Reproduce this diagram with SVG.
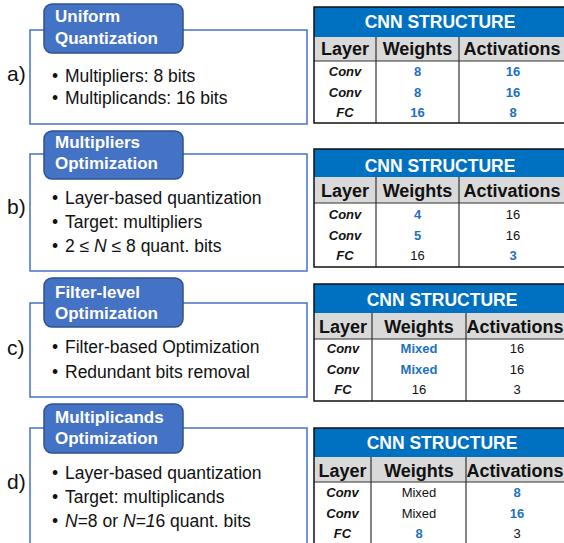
<svg xmlns="http://www.w3.org/2000/svg" width="564" height="543" viewBox="0 0 564 543">
<style>
text{font-family:"Liberation Sans",Arial,sans-serif}
.box{fill:#ffffff;stroke:#4472C4;stroke-width:1.5}
.tbox{fill:#4472C4;stroke:#2F528F;stroke-width:1.5}
.ttl{fill:#ffffff;font-size:17px;font-weight:bold}
.bul{fill:#111;font-size:17.5px}
.lbl{fill:#111;font-size:21px}
.band{fill:#0070C0}
.hdr{fill:#D9D9D9}
.frame{fill:none;stroke:#111;stroke-width:1.5}
.grid{stroke:#333;stroke-width:1.2}
.cnn{fill:#fff;font-size:17.5px;font-weight:bold;text-anchor:middle}
.col{fill:#111;font-size:18px;font-weight:bold;text-anchor:middle}
.ly{fill:#111;font-size:13px;font-weight:bold;font-style:italic;text-anchor:middle}
.vb{fill:#1F70C1;font-size:13px;font-weight:bold;text-anchor:middle}
.vn{fill:#111;font-size:13px;text-anchor:middle}
</style>

<!-- Panel a -->
<g id="panel-a">
<rect class="box" x="30" y="30" width="277" height="94"/>
<rect class="tbox" x="44" y="4" width="139" height="49" rx="8"/>
<text class="ttl" x="55" y="22">Uniform</text>
<text class="ttl" x="55" y="44">Quantization</text>
<text class="lbl" x="7" y="81">a)</text>
<text class="bul" x="52" y="82">•</text><text class="bul" x="65" y="82">Multipliers: 8 bits</text>
<text class="bul" x="52" y="104">•</text><text class="bul" x="65" y="104">Multiplicands: 16 bits</text>
</g>
<g id="table-a">
<rect class="band" x="314" y="7" width="252" height="30"/>
<rect class="hdr" x="314" y="37" width="252" height="24"/>
<line class="grid" x1="314" y1="61" x2="566" y2="61"/>
<line class="grid" x1="376" y1="37" x2="376" y2="123"/>
<line class="grid" x1="459" y1="37" x2="459" y2="123"/>
<rect class="frame" x="314" y="7" width="252" height="116"/>
<text class="cnn" x="440" y="28">CNN STRUCTURE</text>
<text class="col" x="345" y="55">Layer</text><text class="col" x="417.5" y="55">Weights</text><text class="col" x="512" y="55">Activations</text>
<text class="ly" x="345" y="76">Conv</text><text class="vb" x="417.5" y="76">8</text><text class="vb" x="513" y="76">16</text>
<text class="ly" x="345" y="97">Conv</text><text class="vb" x="417.5" y="97">8</text><text class="vb" x="513" y="97">16</text>
<text class="ly" x="345" y="117">FC</text><text class="vb" x="417.5" y="117">16</text><text class="vb" x="513" y="117">8</text>
</g>

<!-- Panel b -->
<g id="panel-b">
<rect class="box" x="30" y="154" width="277" height="117"/>
<rect class="tbox" x="44" y="131" width="139" height="48" rx="8"/>
<text class="ttl" x="55" y="148">Multipliers</text>
<text class="ttl" x="55" y="169">Optimization</text>
<text class="lbl" x="7" y="214">b)</text>
<text class="bul" x="52" y="204">•</text><text class="bul" x="65" y="204">Layer-based quantization</text>
<text class="bul" x="52" y="228">•</text><text class="bul" x="65" y="228">Target: multipliers</text>
<text class="bul" x="52" y="252">•</text><text class="bul" x="65" y="252">2 ≤ <tspan font-style="italic">N</tspan> ≤ 8 quant. bits</text>
</g>
<g id="table-b">
<rect class="band" x="314" y="149" width="252" height="28"/>
<rect class="hdr" x="314" y="177" width="252" height="26"/>
<line class="grid" x1="314" y1="203" x2="566" y2="203"/>
<line class="grid" x1="376" y1="177" x2="376" y2="267"/>
<line class="grid" x1="459" y1="177" x2="459" y2="267"/>
<rect class="frame" x="314" y="149" width="252" height="118"/>
<text class="cnn" x="440" y="172">CNN STRUCTURE</text>
<text class="col" x="345" y="197">Layer</text><text class="col" x="417.5" y="197">Weights</text><text class="col" x="512" y="197">Activations</text>
<text class="ly" x="345" y="219">Conv</text><text class="vb" x="417.5" y="219">4</text><text class="vn" x="513" y="219">16</text>
<text class="ly" x="345" y="240">Conv</text><text class="vb" x="417.5" y="240">5</text><text class="vn" x="513" y="240">16</text>
<text class="ly" x="345" y="260">FC</text><text class="vn" x="417.5" y="260">16</text><text class="vb" x="513" y="260">3</text>
</g>

<!-- Panel c -->
<g id="panel-c">
<rect class="box" x="30" y="303" width="277" height="94"/>
<rect class="tbox" x="44" y="278" width="139" height="49" rx="8"/>
<text class="ttl" x="55" y="298">Filter-level</text>
<text class="ttl" x="55" y="319">Optimization</text>
<text class="lbl" x="7" y="355">c)</text>
<text class="bul" x="52" y="353">•</text><text class="bul" x="65" y="353">Filter-based Optimization</text>
<text class="bul" x="52" y="378">•</text><text class="bul" x="65" y="378">Redundant bits removal</text>
</g>
<g id="table-c">
<rect class="band" x="314" y="284" width="252" height="29"/>
<rect class="hdr" x="314" y="313" width="252" height="26"/>
<line class="grid" x1="314" y1="339" x2="566" y2="339"/>
<line class="grid" x1="372" y1="313" x2="372" y2="401"/>
<line class="grid" x1="466" y1="313" x2="466" y2="401"/>
<rect class="frame" x="314" y="284" width="252" height="117"/>
<text class="cnn" x="442" y="306">CNN STRUCTURE</text>
<text class="col" x="343" y="333">Layer</text><text class="col" x="419" y="333">Weights</text><text class="col" x="515" y="333">Activations</text>
<text class="ly" x="343" y="353">Conv</text><text class="vb" x="419" y="353">Mixed</text><text class="vn" x="517" y="353">16</text>
<text class="ly" x="343" y="374">Conv</text><text class="vb" x="419" y="374">Mixed</text><text class="vn" x="517" y="374">16</text>
<text class="ly" x="343" y="394">FC</text><text class="vn" x="419" y="394">16</text><text class="vn" x="517" y="394">3</text>
</g>

<!-- Panel d -->
<g id="panel-d">
<rect class="box" x="30" y="428" width="277" height="120"/>
<rect class="tbox" x="44" y="404" width="139" height="49" rx="8"/>
<text class="ttl" x="55" y="423">Multiplicands</text>
<text class="ttl" x="55" y="444">Optimization</text>
<text class="lbl" x="7" y="489">d)</text>
<text class="bul" x="52" y="479">•</text><text class="bul" x="65" y="479">Layer-based quantization</text>
<text class="bul" x="52" y="503">•</text><text class="bul" x="65" y="503">Target: multiplicands</text>
<text class="bul" x="52" y="527">•</text><text class="bul" x="65" y="527"><tspan font-style="italic">N</tspan>=8 or <tspan font-style="italic">N=1</tspan>6 quant. bits</text>
</g>
<g id="table-d">
<rect class="band" x="314" y="428" width="252" height="29"/>
<rect class="hdr" x="314" y="457" width="252" height="25"/>
<line class="grid" x1="314" y1="482" x2="566" y2="482"/>
<line class="grid" x1="371" y1="457" x2="371" y2="548"/>
<line class="grid" x1="466" y1="457" x2="466" y2="548"/>
<rect class="frame" x="314" y="428" width="252" height="120"/>
<text class="cnn" x="442" y="449">CNN STRUCTURE</text>
<text class="col" x="342.5" y="477">Layer</text><text class="col" x="419" y="477">Weights</text><text class="col" x="515" y="477">Activations</text>
<text class="ly" x="342.5" y="497">Conv</text><text class="vn" x="419" y="497">Mixed</text><text class="vb" x="517" y="497">8</text>
<text class="ly" x="342.5" y="518">Conv</text><text class="vn" x="419" y="518">Mixed</text><text class="vb" x="517" y="518">16</text>
<text class="ly" x="342.5" y="538">FC</text><text class="vb" x="419" y="538">8</text><text class="vn" x="517" y="538">3</text>
</g>

<g id="connectors"></g>
</svg>
